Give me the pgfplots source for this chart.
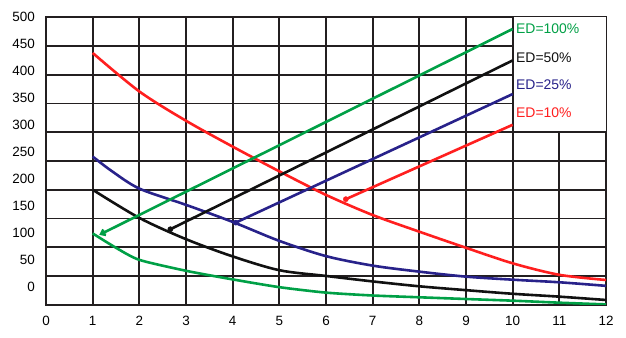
\documentclass[border=0pt]{standalone}
\usepackage{pgfplots}
\pgfplotsset{compat=1.18}
\usepackage{fontspec}
\setmainfont{Liberation Sans}
\usetikzlibrary{arrows.meta}
\definecolor{cred}{HTML}{FF1F1F}
\definecolor{cgreen}{HTML}{00A046}
\definecolor{cblue}{HTML}{28228A}
\definecolor{cblack}{HTML}{111111}
\definecolor{gridc}{HTML}{231F20}
\begin{document}
\begin{tikzpicture}
\begin{axis}[
  scale only axis, width=560bp, height=287.4bp,
  xmin=0,xmax=12,ymin=0,ymax=500,
  xtick={0,...,12},
  xmajorgrids=true,
  ytick={30.8,77.7,124.6,171.6,218.5,265.4,312.3,359.2,406.2,453.1,500},
  yticklabels={0,50,100,150,200,250,300,350,400,450,500},
  extra y ticks={0,50,...,500}, extra y tick labels={},
  extra y tick style={grid=major},
  major tick length=0pt,
  grid style={line width=1.7bp, color=gridc},
  major grid style={line width=1.7bp, color=gridc},
  axis line style={line width=1.7bp, color=gridc},
  tick label style={font=\fontsize{13.5}{16}\selectfont, inner sep=0pt},
  yticklabel style={xshift=-11bp},
  xticklabel style={yshift=-11bp},
  /pgf/number format/assume math mode=true,
  every axis plot/.append style={line width=2.6bp},
]
% legend white box
\fill[white] (axis cs:10,300) rectangle (axis cs:12,500);
\draw[line width=1.7bp, gridc] (axis cs:10,300) -- (axis cs:10,500);
\draw[line width=1.7bp, gridc] (axis cs:10,300) -- (axis cs:12,300);
% decreasing curves
\addplot[cred, no marks, smooth, tension=0.5] coordinates {(1,438) (2,371) (3,320) (4,275) (5,232) (6,191) (7,156) (8,127) (9,99) (10,72) (11,52) (12,43)};
\addplot[cblue, no marks, smooth, tension=0.5] coordinates {(1,257.8) (1.4,233) (2,202) (3,173.7) (4,144) (5,111) (6,84.5) (7,68) (8,57.5) (9,48.8) (10,43.5) (11,39) (12,32.8)};
\addplot[cblack, no marks, smooth, tension=0.5] coordinates {(1,200) (2,151) (3,114) (4,84) (5,60) (6,50) (7,40.5) (8,32) (9,25.3) (10,19) (11,14) (12,8.2)};
\addplot[cgreen, no marks, smooth, tension=0.4] coordinates {(1,124) (1.5,99) (2,78) (3,59) (4,44) (5,30.5) (6,21) (7,16) (8,12.9) (9,9.9) (10,7) (11,3.5) (12,0.5)};
% increasing lines
\addplot[cgreen, no marks, {Straight Barb[length=4bp,width=6bp]}-] coordinates {(1.14,121.4) (10,479.7)};
\addplot[cblack, no marks, -] coordinates {(2.665,131.3) (10,425)};
\addplot[cblue, no marks, -] coordinates {(4.066,142.8) (10,366.5)};
\addplot[cred, no marks, -] coordinates {(6.425,183.6) (10,313)};
\addplot[cblack, only marks, mark=*, mark size=2.6bp, mark options={line width=0.4bp, draw=cblack, fill=cblack}] coordinates {(2.665,131.3)};
\addplot[cblue, only marks, mark=*, mark size=2.6bp, mark options={line width=0.4bp, draw=cblue, fill=cblue}] coordinates {(4.066,142.8)};
\addplot[cred, only marks, mark=*, mark size=2.6bp, mark options={line width=0.4bp, draw=cred, fill=cred}] coordinates {(6.425,183.6)};
% legend texts
\node[anchor=west, inner sep=0pt, text=cgreen, font=\fontsize{14}{16}\selectfont] at (axis cs:10.07,480) {ED=100\%};
\node[anchor=west, inner sep=0pt, text=cblack, font=\fontsize{14}{16}\selectfont] at (axis cs:10.07,430.3) {ED=50\%};
\node[anchor=west, inner sep=0pt, text=cblue, font=\fontsize{14}{16}\selectfont] at (axis cs:10.07,382.4) {ED=25\%};
\node[anchor=west, inner sep=0pt, text=cred, font=\fontsize{14}{16}\selectfont] at (axis cs:10.07,334.8) {ED=10\%};
\end{axis}
\pgfresetboundingbox
\path (current axis.south west) ++(-46bp,-33.3bp) rectangle ++(626bp,338bp);
\end{tikzpicture}
\end{document}
